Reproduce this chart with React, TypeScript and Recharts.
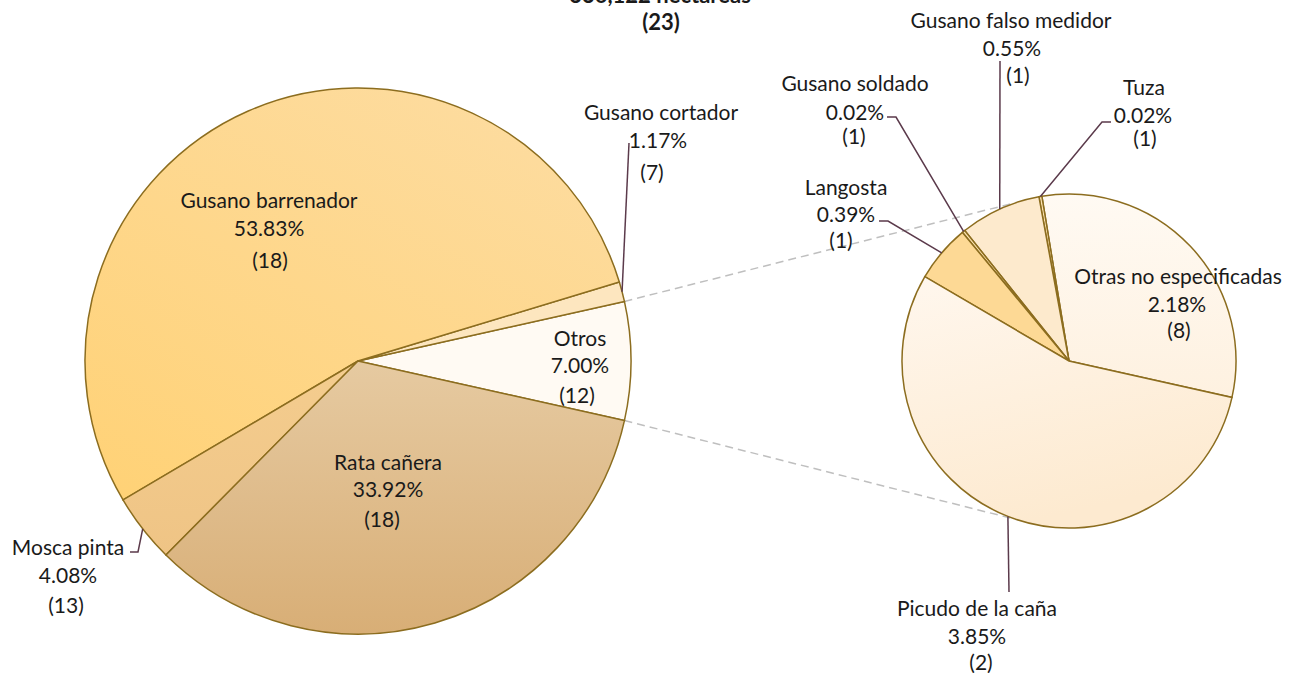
import React from 'react';
import { PieChart, Pie, Cell } from 'recharts';

// main pie
const LEFT_NAMES = ['Otros', 'Gusano cortador', 'Gusano barrenador', 'Mosca pinta', 'Rata cañera'];
const LEFT_PCT = [7.0, 1.17, 53.83, 4.08, 33.92];
const LEFT_COUNT = [12, 7, 18, 13, 18];

// secondary pie (breakdown of "Otros")
const RIGHT_NAMES = ['Otras no especificadas', 'Tuza', 'Gusano falso medidor', 'Gusano soldado', 'Langosta', 'Picudo de la caña'];
const RIGHT_PCT = [2.18, 0.02, 0.55, 0.02, 0.39, 3.85];
const RIGHT_COUNT = [8, 1, 1, 1, 1, 2];

const TITLE_TOP = '336,122 hectáreas';
const TITLE = '(23)';

const leftData = LEFT_NAMES.map((name, i) => ({ name, value: LEFT_PCT[i], count: LEFT_COUNT[i] }));
const rightData = RIGHT_NAMES.map((name, i) => ({ name, value: RIGHT_PCT[i], count: RIGHT_COUNT[i] }));

const L = { cx: 358, cy: 361, r: 273 };
const R = { cx: 1069, cy: 361, r: 167 };
const OTHERS_HALF = (LEFT_PCT[0] / 100) * 180;
const CONNECT_ANGLE = 108;

const LEFT_FILLS = ['#FFFAF3', '#FDE6BF', 'url(#gBarr)', 'url(#gMosca)', 'url(#gRata)'];
const RIGHT_FILLS = ['url(#gOtras)', '#FDE3B0', '#FDEACD', '#FDE3B0', '#FDD995', 'url(#gPicudo)'];

const STROKE = '#8C6D1F';
const LEADER = '#5B3A4B';
const TEXT = '#1a1a1a';
const FONT = 'Lato, "Open Sans", sans-serif';

type Layout = { xs: number[]; ys: number[]; leader?: number[][] };

// label placement, offsets from the pie centre
const LAYOUT: Record<string, Layout> = {
  'Otros': { xs: [222, 222, 219], ys: [-24, 3, 33] },
  'Gusano cortador': { xs: [303, 300, 294], ys: [-250, -222, -190], leader: [[271, -218]] },
  'Gusano barrenador': { xs: [-89, -89, -88], ys: [-162, -134, -102] },
  'Mosca pinta': { xs: [-290, -290, -292], ys: [185, 213, 243], leader: [[-220, 191], [-228, 191]] },
  'Rata cañera': { xs: [30, 30, 24], ys: [100, 127, 157] },
  'Otras no especificadas': { xs: [109, 108, 110], ys: [-86, -58, -32] },
  'Tuza': { xs: [75, 74, 76], ys: [-275, -247, -224], leader: [[33, -239], [42, -239]] },
  'Gusano falso medidor': { xs: [-58, -57, -51], ys: [-342, -314, -287], leader: [[-69, -300]] },
  'Gusano soldado': { xs: [-214, -214, -215], ys: [-279, -250, -226], leader: [[-173, -244], [-182, -244]] },
  'Langosta': { xs: [-223, -223, -228], ys: [-175, -148, -122], leader: [[-181, -140], [-190, -140]] },
  'Picudo de la caña': { xs: [-92, -92, -88], ys: [246, 274, 300], leader: [[-60, 231]] },
};

const RAD = Math.PI / 180;

const renderLabel = (props: any) => {
  const { cx, cy, midAngle, outerRadius, payload } = props;
  const name = payload.name;
  const lay = LAYOUT[name];
  if (!lay) return null;
  const lines = [name, `${payload.value.toFixed(2)}%`, `(${payload.count})`];
  let path = '';
  if (lay.leader) {
    const ex = cx + outerRadius * Math.cos(midAngle * RAD);
    const ey = cy - outerRadius * Math.sin(midAngle * RAD);
    path = `M${ex},${ey}` + lay.leader.map(([x, y]) => ` L${cx + x},${cy + y}`).join('');
  }
  return (
    <g key={`lbl-${name}`}>
      {path && <path d={path} stroke={LEADER} strokeWidth={1.5} fill="none" />}
      {lines.map((t, i) => (
        <text
          key={i}
          x={cx + lay.xs[i]}
          y={cy + lay.ys[i]}
          textAnchor="middle"
          dominantBaseline="central"
          fill={TEXT}
          fontSize={21}
          fontFamily={FONT}
        >
          {t}
        </text>
      ))}
    </g>
  );
};

const pt = (c: { cx: number; cy: number; r: number }, a: number) => ({
  x: c.cx + c.r * Math.cos(a * RAD),
  y: c.cy - c.r * Math.sin(a * RAD),
});

export default function App() {
  const lt = pt(L, OTHERS_HALF);
  const lb = pt(L, -OTHERS_HALF);
  const rt = pt(R, CONNECT_ANGLE);
  const rb = pt(R, -CONNECT_ANGLE);
  return (
    <div style={{ position: 'relative', width: 1294, height: 673, background: '#fff' }}>
      <style>{`body{margin:0}`}</style>
      <svg width={1294} height={673} style={{ position: 'absolute', left: 0, top: 0 }}>
        <line x1={lt.x} y1={lt.y} x2={rt.x} y2={rt.y} stroke="#BFBFBF" strokeWidth={1.5} strokeDasharray="8 5" />
        <line x1={lb.x} y1={lb.y} x2={rb.x} y2={rb.y} stroke="#BFBFBF" strokeWidth={1.5} strokeDasharray="8 5" />
        <text x={660} y={3} textAnchor="middle" fontSize={22} fontWeight="bold" fontFamily={FONT} fill={TEXT}>
          {TITLE_TOP}
        </text>
        <text x={661} y={21} textAnchor="middle" dominantBaseline="central" fontSize={22} fontWeight="bold" fontFamily={FONT} fill={TEXT}>
          {TITLE}
        </text>
      </svg>
      <div style={{ position: 'absolute', left: 0, top: 0 }}>
        <PieChart width={1294} height={673} margin={{ top: 0, right: 0, bottom: 0, left: 0 }}>
          <defs>
            <linearGradient id="gBarr" x1="0.8" y1="0" x2="0.1" y2="1">
              <stop offset="0" stopColor="#FDDCA0" />
              <stop offset="1" stopColor="#FFD277" />
            </linearGradient>
            <linearGradient id="gRata" x1="0" y1="0" x2="0" y2="1">
              <stop offset="0" stopColor="#E6CAA1" />
              <stop offset="1" stopColor="#D8AE76" />
            </linearGradient>
            <linearGradient id="gMosca" x1="0" y1="0" x2="0" y2="1">
              <stop offset="0" stopColor="#F4CD8F" />
              <stop offset="1" stopColor="#EFC485" />
            </linearGradient>
            <linearGradient id="gOtras" x1="0" y1="0" x2="0" y2="1">
              <stop offset="0" stopColor="#FFFAF3" />
              <stop offset="1" stopColor="#FEF1E0" />
            </linearGradient>
            <linearGradient id="gPicudo" x1="0" y1="0" x2="0.3" y2="1">
              <stop offset="0" stopColor="#FFF7EE" />
              <stop offset="1" stopColor="#FDEAD0" />
            </linearGradient>
          </defs>
          <Pie
            data={leftData}
            dataKey="value"
            nameKey="name"
            cx={L.cx}
            cy={L.cy}
            outerRadius={L.r}
            startAngle={-OTHERS_HALF}
            endAngle={360 - OTHERS_HALF}
            stroke={STROKE}
            strokeWidth={1.5}
            label={renderLabel}
            labelLine={false}
            isAnimationActive={false}
          >
            {leftData.map((d, i) => (
              <Cell key={d.name} fill={LEFT_FILLS[i]} />
            ))}
          </Pie>
          <Pie
            data={rightData}
            dataKey="value"
            nameKey="name"
            cx={R.cx}
            cy={R.cy}
            outerRadius={R.r}
            startAngle={-OTHERS_HALF}
            endAngle={360 - OTHERS_HALF}
            stroke={STROKE}
            strokeWidth={1.5}
            label={renderLabel}
            labelLine={false}
            isAnimationActive={false}
          >
            {rightData.map((d, i) => (
              <Cell key={d.name} fill={RIGHT_FILLS[i]} />
            ))}
          </Pie>
        </PieChart>
      </div>
    </div>
  );
}
